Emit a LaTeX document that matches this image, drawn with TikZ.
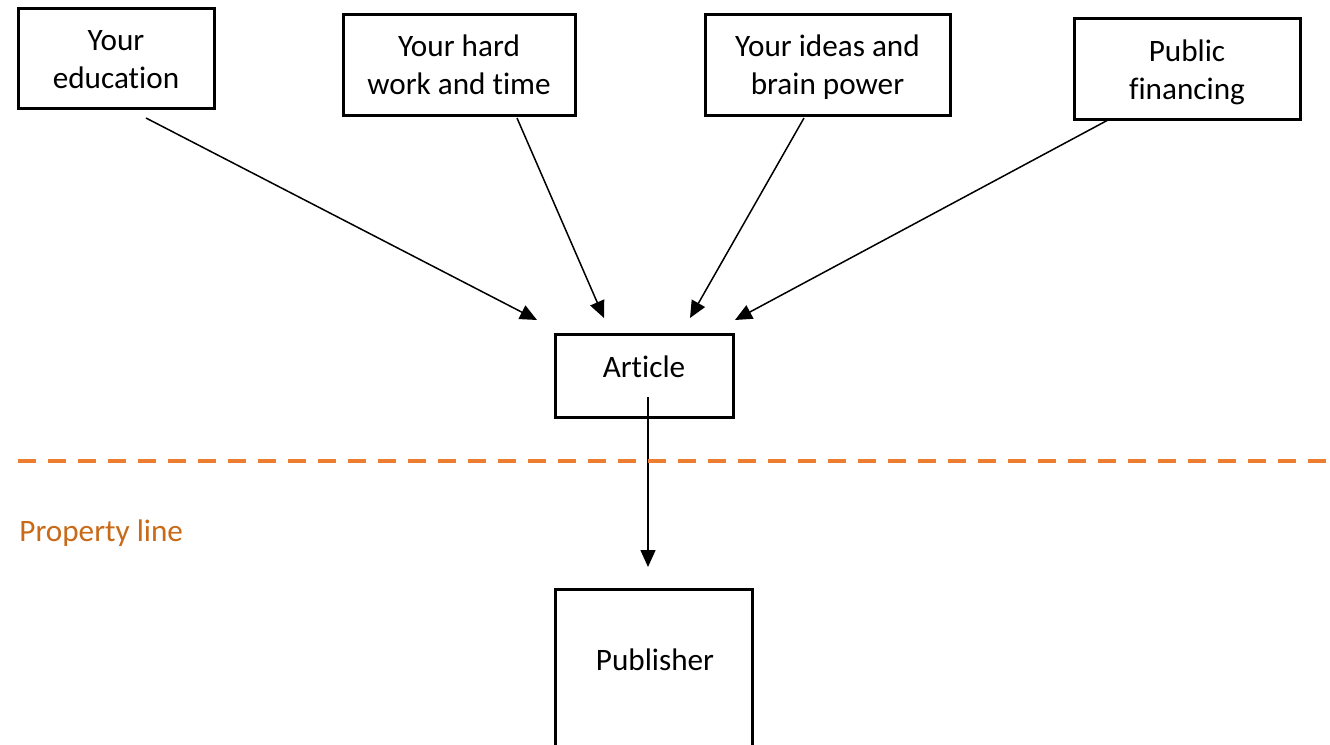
\documentclass[tikz,border=0pt]{standalone}
\usepackage{fontspec}
\setmainfont{Carlito}[RawFeature={-liga;-clig;-calt;-dlig}]
\usetikzlibrary{arrows.meta}
\definecolor{dashorange}{HTML}{ED7D31}
\definecolor{textorange}{HTML}{C96A18}
\tikzset{
  box/.style={draw=black, line width=1.5pt, inner sep=0pt, align=center, font=\fontsize{15.6}{19}\selectfont},
  lbl/.style={inner sep=0pt, align=center, font=\fontsize{15.6}{19}\selectfont},
  arr/.style={line width=0.75pt, -{Triangle[length=8.5pt,width=7.5pt]}},
  propline/.style={draw=dashorange, line width=2.2pt, dash pattern=on 9pt off 6pt}
}
\begin{document}
\begin{tikzpicture}[x=0.5pt,y=-0.5pt]
\useasboundingbox (0,0) rectangle (1330,745);
\clip (0,0) rectangle (1330,745);
\fill[white] (0,0) rectangle (1330,745);
% top boxes
\node[box, minimum width=98pt, minimum height=50pt] (edu) at (116,58) {};
\node[lbl] (edut) at (116,60) {Your\\education};
\node[box, minimum width=116pt, minimum height=50.5pt] (hard) at (459,64.5) {};
\node[lbl] (hardt) at (459,65) {Your hard\\work and time};
\node[box, minimum width=122.5pt, minimum height=50.5pt] (ideas) at (827.5,64.5) {};
\node[lbl] (ideast) at (827.5,67) {Your ideas and\\brain power};
\node[box, minimum width=113pt, minimum height=50.5pt] (pub) at (1187,68.5) {};
\node[lbl] (pubt) at (1187,72) {Public\\financing};
% article
\node[box, minimum width=89pt, minimum height=41.5pt] (art) at (644,375.5) {};
\node[lbl] (artt) at (644,367) {Article};
% publisher
\node[box, minimum width=98.5pt, minimum height=110pt] (publ) at (653.5,699) {};
\node[lbl] (publt) at (655,660) {Publisher};
% arrow endpoints
\coordinate (e1s) at (146,118); \coordinate (e1e) at (537,320);
\coordinate (e2s) at (517,118); \coordinate (e2e) at (604,318);
\coordinate (e3s) at (804,118); \coordinate (e3e) at (690,318);
\coordinate (e4s) at (1108,120); \coordinate (e4e) at (735,320);
\coordinate (e5s) at (648,397); \coordinate (e5e) at (648,567);
\draw[arr] (e1s) -- (e1e);
\draw[arr] (e2s) -- (e2e);
\draw[arr] (e3s) -- (e3e);
\draw[arr] (e4s) -- (e4e);
\draw[arr] (e5s) -- (e5e);
% property line
\coordinate (pl1) at (18,461); \coordinate (pl2) at (1330,461);
\draw[propline] (pl1) -- (pl2);
\node[lbl, anchor=base west, text=textorange] (plt) at (19,541) {Property line};
\end{tikzpicture}
\end{document}
